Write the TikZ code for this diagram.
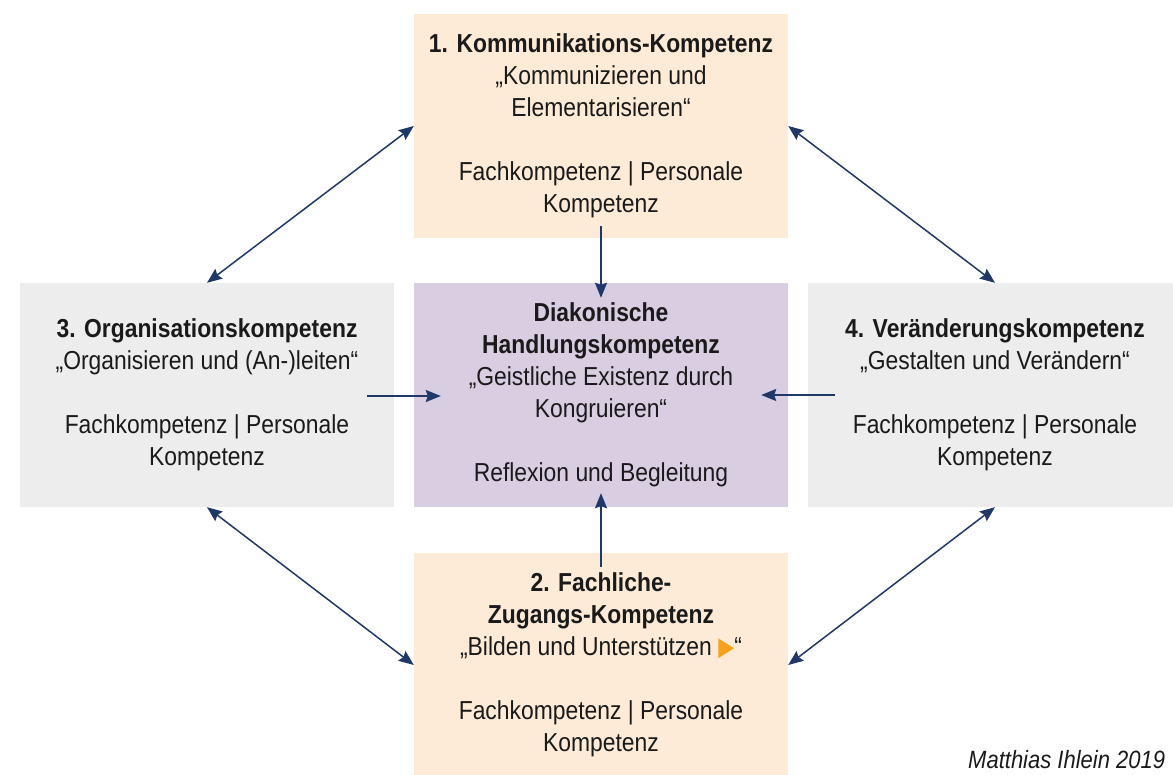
\documentclass[tikz,border=0pt]{standalone}
\usepackage{fontspec}
\setmainfont{Liberation Sans}[FakeStretch=0.88]
\newfontfamily\dejavu{DejaVu Sans}
\usetikzlibrary{arrows.meta,calc}
\definecolor{peach}{RGB}{253,235,215}
\definecolor{lav}{RGB}{217,205,226}
\definecolor{lgray}{RGB}{237,237,237}
\definecolor{navy}{RGB}{31,56,104}
\definecolor{tri}{RGB}{247,162,27}
\definecolor{txt}{RGB}{26,26,26}
\newcommand{\tri}{{\color{tri}\scalebox{0.8}[1]{\dejavu\fontsize{26}{32}\selectfont ▶}}}
\begin{document}
\begin{tikzpicture}[x=1pt,y=-1pt,
  box/.style={minimum width=374pt,minimum height=224pt,inner sep=0pt,align=center,
    text=txt,font=\fontsize{26}{32}\selectfont},
  peachbox/.style={box,fill=peach},
  lavbox/.style={box,fill=lav},
  graybox/.style={box,fill=lgray},
  arr/.style={draw=navy,line width=1.5pt,-{Stealth[length=15pt,width=12pt,inset=2pt]}},
  dbl/.style={draw=navy,line width=1.5pt,{Stealth[length=15pt,width=12pt,inset=2pt]}-{Stealth[length=15pt,width=12pt,inset=2pt]}},
  credit/.style={font=\itshape\fontsize{25}{30}\selectfont,text=txt,inner sep=0pt,anchor=base west}]
\useasboundingbox (0,0) rectangle (1173,774);
\clip (0,0) rectangle (1173,774);
\node[peachbox] (b1) at (601,126) {\textbf{1. Kommunikations-Kompetenz}\\„Kommunizieren und\\Elementarisieren“\\[32pt]Fachkompetenz | Personale\\Kompetenz};
\node[lavbox] (bc) at (601,395) {\textbf{Diakonische}\\\textbf{Handlungskompetenz}\\„Geistliche Existenz durch\\Kongruieren“\\[32pt]Reflexion und Begleitung};
\node[graybox] (b3) at (207,395) {\textbf{3. Organisationskompetenz}\\„Organisieren und (An-)leiten“\\[32pt]Fachkompetenz | Personale\\Kompetenz};
\node[graybox] (b4) at (995,395) {\textbf{4. Veränderungskompetenz}\\„Gestalten und Verändern“\\[32pt]Fachkompetenz | Personale\\Kompetenz};
\node[peachbox] (b2) at (601,665) {\textbf{2. Fachliche-}\\\textbf{Zugangs-Kompetenz}\\„Bilden und Unterstützen \tri“\\[32pt]Fachkompetenz | Personale\\Kompetenz};
\node[credit] (cred) at (968,768) {Matthias Ihlein 2019};
\coordinate (t1) at ($(b1.south)+(0,-12)$);
\coordinate (t2) at ($(bc.north)+(0,15)$);
\coordinate (u1) at ($(b2.north)+(0,14)$);
\coordinate (u2) at ($(bc.south)+(0,-14)$);
\coordinate (l1) at ($(b3.east)+(-27,1)$);
\coordinate (l2) at ($(bc.west)+(27,1)$);
\coordinate (r1) at ($(b4.west)+(27,0)$);
\coordinate (r2) at ($(bc.east)+(-27,0)$);
\draw[dbl] (b1.west) -- (b3.north);
\draw[dbl] (b1.east) -- (b4.north);
\draw[dbl] (b3.south) -- (b2.west);
\draw[dbl] (b4.south) -- (b2.east);
\draw[arr] (t1) -- (t2);
\draw[arr] (u1) -- (u2);
\draw[arr] (l1) -- (l2);
\draw[arr] (r1) -- (r2);
\end{tikzpicture}
\end{document}
